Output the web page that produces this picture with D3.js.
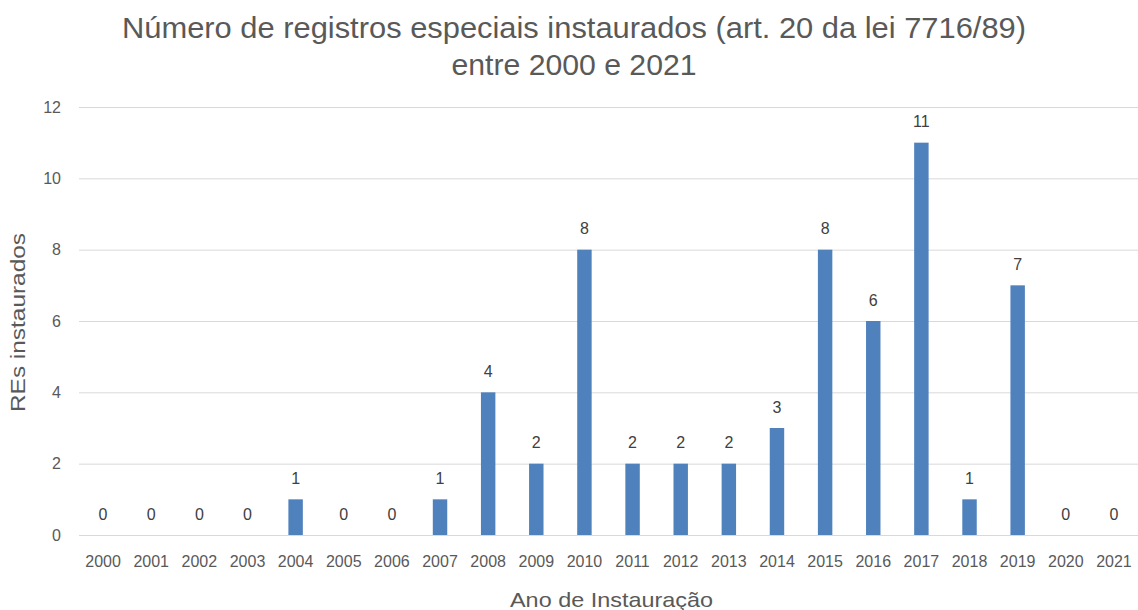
<!DOCTYPE html>
<html lang="pt">
<head>
	<meta charset="UTF-8">
	<style>
	body { margin: 0; background: #fff; }
	svg { font-family: "Liberation Sans", Arial, sans-serif; }
	</style>
	<script src="https://d3js.org/d3.v7.min.js"></script>
	<title>REs instaurados</title>
</head>
<body>
	<div id="chart"></div>
	<script>
		// Data
		const years = ["2000", "2001", "2002", "2003", "2004", "2005", "2006", "2007", "2008", "2009", "2010",
			"2011", "2012", "2013", "2014", "2015", "2016", "2017", "2018", "2019", "2020", "2021"];
		const counts = [0, 0, 0, 0, 1, 0, 0, 1, 4, 2, 8, 2, 2, 2, 3, 8, 6, 11, 1, 7, 0, 0];
		const yTicks = [0, 2, 4, 6, 8, 10, 12];

		const titleLines = ["Número de registros especiais instaurados (art. 20 da lei 7716/89)", "entre 2000 e 2021"];
		const yTitle = "REs instaurados";
		const xTitle = "Ano de Instauração";

		const width = 1138, height = 610;
		const margin = { top: 107, right: 0, bottom: 75, left: 79 };

		const svg = d3.select("#chart").append("svg")
			.attr("width", width)
			.attr("height", height);

		const x = d3.scaleBand()
			.domain(years)
			.range([margin.left, width - margin.right])
			.paddingInner(0.7)
			.paddingOuter(0.35);

		const y = d3.scaleLinear()
			.domain([0, 12])
			.range([height - margin.bottom, margin.top]);

		// gridlines
		svg.append("g")
			.selectAll("line")
			.data(yTicks)
			.join("line")
			.attr("x1", margin.left)
			.attr("x2", width - margin.right)
			.attr("y1", d => y(d) + 0.5)
			.attr("y2", d => y(d) + 0.5)
			.style("stroke", "#d9d9d9")
			.style("stroke-width", 1);

		// y tick labels
		const yAxis = svg.append("g")
			.attr("transform", "translate(" + (margin.left - 18) + ",0)")
			.call(d3.axisLeft(y).tickValues(yTicks).tickSize(0).tickPadding(0));
		yAxis.select(".domain").remove();
		yAxis.selectAll("text")
			.style("font-size", "16px")
			.style("fill", "#595959")
			.style("font-family", "'Liberation Sans', Arial, sans-serif");

		// x tick labels
		const xAxis = svg.append("g")
			.attr("transform", "translate(0," + (height - margin.bottom) + ")")
			.call(d3.axisBottom(x).tickSize(0).tickPadding(21));
		xAxis.select(".domain").remove();
		xAxis.selectAll("text")
			.style("font-size", "16px")
			.style("fill", "#595959")
			.style("font-family", "'Liberation Sans', Arial, sans-serif");

		// bars
		svg.append("g")
			.selectAll("rect")
			.data(counts)
			.join("rect")
			.attr("x", (d, i) => x(years[i]))
			.attr("y", d => y(d))
			.attr("width", x.bandwidth())
			.attr("height", d => y(0) - y(d))
			.style("fill", "#4f81bd");

		// value labels
		svg.append("g")
			.selectAll("text")
			.data(counts)
			.join("text")
			.attr("x", (d, i) => x(years[i]) + x.bandwidth() / 2)
			.attr("y", d => y(d) - 15.5)
			.attr("text-anchor", "middle")
			.style("font-size", "16px")
			.style("fill", "#404040")
			.text(d => d);

		// title (the original is a tall, narrow face, so squeeze it to the same width)
		const titleWidths = [904, 245];
		svg.append("g")
			.selectAll("text")
			.data(titleLines)
			.join("text")
			.attr("x", (d, i) => 574 - titleWidths[i] / 2)
			.attr("y", (d, i) => 38 + i * 37)
			.attr("textLength", (d, i) => titleWidths[i])
			.attr("lengthAdjust", "spacingAndGlyphs")
			.style("font-size", "29px")
			.style("fill", "#595959")
			.text(d => d);

		// axis titles
		svg.append("text")
			.attr("transform", "translate(25,412) rotate(-90)")
			.attr("textLength", 179)
			.attr("lengthAdjust", "spacingAndGlyphs")
			.style("font-size", "21px")
			.style("fill", "#595959")
			.text(yTitle);

		svg.append("text")
			.attr("x", 510)
			.attr("y", 607)
			.attr("textLength", 203)
			.attr("lengthAdjust", "spacingAndGlyphs")
			.style("font-size", "21px")
			.style("fill", "#595959")
			.text(xTitle);
	</script>
</body>
</html>
